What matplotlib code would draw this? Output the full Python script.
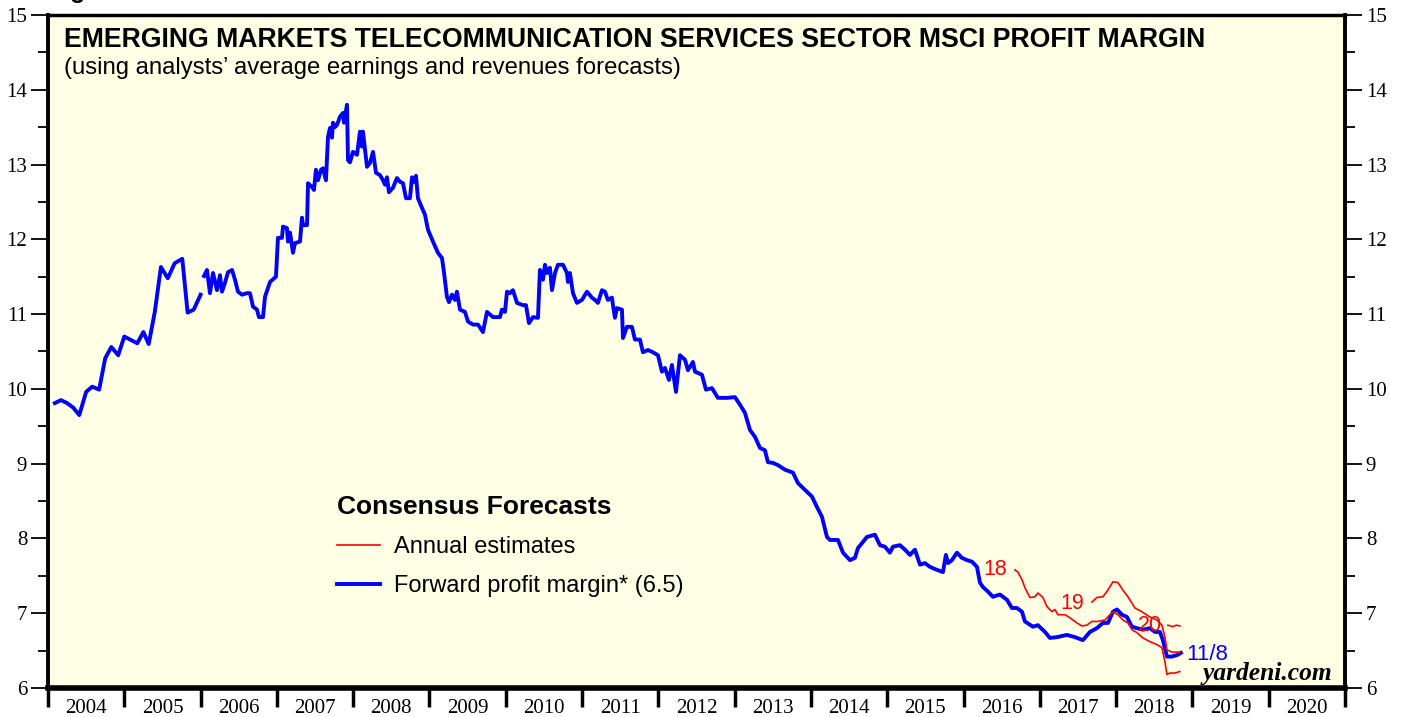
import matplotlib
matplotlib.use("Agg")
import matplotlib.pyplot as plt
from matplotlib.lines import Line2D
from matplotlib.ticker import MultipleLocator, FixedLocator, NullFormatter

# monthly forward profit margin, 2004-2005
early_years = [2004.09, 2004.17, 2004.25, 2004.33, 2004.41, 2004.50, 2004.58, 2004.67,
               2004.75, 2004.83, 2004.92, 2005.00, 2005.17, 2005.25, 2005.32, 2005.40,
               2005.48, 2005.57, 2005.66, 2005.76, 2005.83, 2005.91, 2006.00]
early_margin = [9.81, 9.85, 9.81, 9.75, 9.65, 9.96, 10.03, 9.99,
                10.41, 10.56, 10.45, 10.70, 10.61, 10.76, 10.60, 11.03,
                11.63, 11.48, 11.68, 11.74, 11.02, 11.06, 11.26]

# weekly forward profit margin, 2006 onwards
fwd_years = [2006.045, 2006.084, 2006.123, 2006.163, 2006.215, 2006.254, 2006.280, 2006.320,
             2006.359, 2006.412, 2006.451, 2006.490, 2006.543, 2006.608, 2006.647, 2006.687,
             2006.739, 2006.765, 2006.818, 2006.844, 2006.910, 2006.988, 2007.014, 2007.067,
             2007.080, 2007.132, 2007.145, 2007.172, 2007.211, 2007.237, 2007.303, 2007.329,
             2007.342, 2007.395, 2007.408, 2007.460, 2007.486, 2007.512, 2007.539, 2007.578,
             2007.604, 2007.643, 2007.670, 2007.696, 2007.722, 2007.735, 2007.761, 2007.788,
             2007.827, 2007.866, 2007.879, 2007.919, 2007.932, 2007.958, 2007.997, 2008.050,
             2008.089, 2008.115, 2008.128, 2008.181, 2008.220, 2008.260, 2008.299, 2008.351,
             2008.391, 2008.417, 2008.443, 2008.469, 2008.522, 2008.574, 2008.613, 2008.653,
             2008.692, 2008.744, 2008.771, 2008.797, 2008.823, 2008.849, 2008.902, 2008.941,
             2008.980, 2009.046, 2009.111, 2009.164, 2009.190, 2009.229, 2009.256, 2009.295,
             2009.334, 2009.360, 2009.400, 2009.465, 2009.505, 2009.570, 2009.636, 2009.701,
             2009.754, 2009.832, 2009.924, 2009.950, 2009.990, 2010.016, 2010.055, 2010.094,
             2010.147, 2010.225, 2010.265, 2010.304, 2010.357, 2010.422, 2010.448, 2010.488,
             2010.514, 2010.540, 2010.579, 2010.606, 2010.645, 2010.684, 2010.750, 2010.802,
             2010.815, 2010.841, 2010.881, 2010.933, 2010.999, 2011.064, 2011.130, 2011.169,
             2011.208, 2011.261, 2011.300, 2011.339, 2011.392, 2011.405, 2011.431, 2011.457,
             2011.523, 2011.536, 2011.588, 2011.654, 2011.693, 2011.759, 2011.798, 2011.864,
             2011.929, 2011.995, 2012.047, 2012.087, 2012.139, 2012.178, 2012.231, 2012.283,
             2012.349, 2012.388, 2012.453, 2012.480, 2012.571, 2012.624, 2012.703, 2012.781,
             2012.899, 2013.004, 2013.069, 2013.135, 2013.201, 2013.266, 2013.332, 2013.397,
             2013.436, 2013.502, 2013.568, 2013.659, 2013.764, 2013.830, 2013.921, 2014.013,
             2014.079, 2014.144, 2014.210, 2014.249, 2014.354, 2014.420, 2014.511, 2014.577,
             2014.616, 2014.734, 2014.839, 2014.904, 2014.970, 2015.035, 2015.075, 2015.166,
             2015.232, 2015.298, 2015.363, 2015.429, 2015.494, 2015.560, 2015.651, 2015.730,
             2015.769, 2015.796, 2015.848, 2015.914, 2015.979, 2016.045, 2016.110, 2016.176,
             2016.215, 2016.254, 2016.320, 2016.385, 2016.477, 2016.569, 2016.634, 2016.700,
             2016.766, 2016.805, 2016.910, 2016.975, 2017.067, 2017.132, 2017.224, 2017.355,
             2017.460, 2017.565, 2017.657, 2017.748, 2017.827, 2017.893, 2017.958, 2018.011,
             2018.076, 2018.142, 2018.207, 2018.273, 2018.351, 2018.443, 2018.509, 2018.574,
             2018.613, 2018.666, 2018.731, 2018.797, 2018.849]
fwd_margin = [11.51, 11.59, 11.28, 11.55, 11.32, 11.52, 11.30, 11.42,
              11.56, 11.59, 11.46, 11.30, 11.26, 11.28, 11.28, 11.10,
              11.06, 10.96, 10.96, 11.23, 11.43, 11.50, 12.02, 12.02,
              12.17, 12.15, 11.97, 12.09, 11.82, 11.95, 11.97, 12.29,
              12.19, 12.19, 12.75, 12.70, 12.66, 12.93, 12.79, 12.93,
              12.95, 12.79, 13.37, 13.49, 13.36, 13.56, 13.50, 13.53,
              13.64, 13.69, 13.56, 13.80, 13.06, 13.03, 13.17, 13.13,
              13.44, 13.24, 13.44, 12.97, 13.02, 13.17, 12.89, 12.86,
              12.79, 12.73, 12.83, 12.63, 12.69, 12.82, 12.77, 12.75,
              12.55, 12.55, 12.83, 12.77, 12.85, 12.55, 12.42, 12.33,
              12.13, 11.97, 11.82, 11.75, 11.56, 11.23, 11.16, 11.26,
              11.19, 11.30, 11.06, 11.03, 10.90, 10.86, 10.86, 10.76,
              11.03, 10.96, 10.96, 11.06, 11.03, 11.30, 11.28, 11.32,
              11.15, 11.12, 11.12, 10.88, 10.96, 10.95, 11.59, 11.46,
              11.66, 11.55, 11.62, 11.32, 11.55, 11.66, 11.66, 11.55,
              11.43, 11.55, 11.28, 11.15, 11.19, 11.30, 11.22, 11.19,
              11.15, 11.32, 11.30, 11.19, 11.22, 11.12, 10.95, 11.08,
              11.06, 10.68, 10.83, 10.83, 10.66, 10.66, 10.49, 10.52,
              10.49, 10.45, 10.23, 10.28, 10.12, 10.32, 9.96, 10.45,
              10.39, 10.25, 10.36, 10.23, 10.19, 9.99, 10.01, 9.88,
              9.88, 9.89, 9.79, 9.68, 9.45, 9.36, 9.21, 9.18,
              9.02, 9.01, 8.98, 8.92, 8.88, 8.74, 8.65, 8.56,
              8.42, 8.29, 8.02, 7.98, 7.98, 7.81, 7.71, 7.74,
              7.87, 8.02, 8.05, 7.91, 7.89, 7.81, 7.89, 7.91,
              7.85, 7.78, 7.85, 7.65, 7.67, 7.62, 7.58, 7.55,
              7.78, 7.67, 7.71, 7.81, 7.74, 7.71, 7.69, 7.62,
              7.41, 7.35, 7.29, 7.22, 7.25, 7.18, 7.07, 7.07,
              7.02, 6.89, 6.82, 6.84, 6.75, 6.67, 6.68, 6.71,
              6.68, 6.64, 6.75, 6.80, 6.87, 6.87, 7.02, 7.05,
              6.98, 6.95, 6.82, 6.80, 6.78, 6.80, 6.75, 6.75,
              6.64, 6.42, 6.42, 6.44, 6.47]

# annual consensus estimates
est18_years = [2016.674, 2016.713, 2016.766, 2016.805, 2016.870, 2016.936, 2016.975, 2017.041,
               2017.093, 2017.159, 2017.198, 2017.237, 2017.329, 2017.395, 2017.486, 2017.552,
               2017.617, 2017.683, 2017.762, 2017.853, 2017.919, 2017.958, 2018.024, 2018.089,
               2018.155, 2018.207, 2018.273, 2018.351, 2018.443, 2018.535, 2018.600, 2018.640,
               2018.666, 2018.705, 2018.771, 2018.836]
est18 = [7.58, 7.55, 7.45, 7.34, 7.21, 7.22, 7.27, 7.21,
         7.09, 7.02, 7.05, 6.98, 6.98, 6.94, 6.87, 6.83,
         6.84, 6.89, 6.89, 6.91, 6.98, 7.02, 6.98, 6.91,
         6.87, 6.78, 6.74, 6.67, 6.62, 6.58, 6.54, 6.35,
         6.18, 6.20, 6.20, 6.22]
est19_years = [2017.683, 2017.748, 2017.827, 2017.893, 2017.958, 2018.024, 2018.089, 2018.155,
               2018.247, 2018.338, 2018.443, 2018.535, 2018.600, 2018.640, 2018.666, 2018.731,
               2018.836]
est19 = [7.15, 7.21, 7.22, 7.31, 7.42, 7.41, 7.31, 7.22,
         7.07, 7.02, 6.95, 6.91, 6.84, 6.68, 6.51, 6.48,
         6.48]
est20_years = [2018.679, 2018.744, 2018.790, 2018.836]
est20 = [6.84, 6.82, 6.84, 6.83]

year_labels = [str(y) for y in range(2004, 2021)]

sans = ['Liberation Sans', 'DejaVu Sans']
serif = ['Liberation Serif', 'DejaVu Serif']

fig = plt.figure(figsize=(14.03, 7.17), dpi=100)
ax = fig.add_axes([48 / 1403, 29 / 717, 1297 / 1403, 673 / 717])
ax.set_facecolor('#ffffe5')

ax.plot(early_years, early_margin, color='#0000ff', lw=2.8, solid_joinstyle='round')
ax.plot(fwd_years, fwd_margin, color='#0000ff', lw=2.8, solid_joinstyle='round')
for yrs, vals in [(est18_years, est18), (est19_years, est19), (est20_years, est20)]:
    ax.plot(yrs, vals, color='#ff0000', lw=1.2)

ax.text(2016.42, 7.58, '18', color='#ff0000', fontsize=15.5, family=sans, ha='center', va='center')
ax.text(2017.43, 7.13, '19', color='#ff0000', fontsize=15.5, family=sans, ha='center', va='center')
ax.text(2018.44, 6.84, '20', color='#ff0000', fontsize=15.5, family=sans, ha='center', va='center')
ax.text(2018.92, 6.45, '11/8', color='#0000ff', fontsize=16, family=sans, ha='left', va='center')

ax.set_xlim(2004, 2021)
ax.set_ylim(6, 15)

# x axis: ticks at year boundaries, labels centred in each year
ax.xaxis.set_major_locator(MultipleLocator(1))
ax.xaxis.set_major_formatter(NullFormatter())
ax.xaxis.set_minor_locator(FixedLocator([y + 0.5 for y in range(2004, 2021)]))
ax.set_xticklabels(year_labels, minor=True)
ax.tick_params(axis='x', which='major', direction='out', length=14, width=2.5, bottom=True, top=False)
ax.tick_params(axis='x', which='minor', length=0, pad=8, labelsize=15)

# y axis on both sides
ax.yaxis.set_major_locator(MultipleLocator(1))
ax.yaxis.set_minor_locator(MultipleLocator(0.5))
ax.tick_params(axis='y', which='major', direction='out', length=12, width=1.3,
               left=True, right=True, labelleft=True, labelright=True, labelsize=15, pad=3)
ax.tick_params(axis='y', which='minor', direction='out', length=7, width=1.3, left=True, right=True)
for lab in ax.get_xticklabels(minor=True):
    lab.set_family(serif)
for t in ax.yaxis.get_major_ticks():
    t.label1.set_family(serif)
    t.label2.set_family(serif)

for side, w in [('left', 2.8), ('right', 2.8), ('bottom', 4), ('top', 2.5)]:
    ax.spines[side].set_linewidth(w)

ax.text(0.012, 0.982, 'EMERGING MARKETS TELECOMMUNICATION SERVICES SECTOR MSCI PROFIT MARGIN',
        transform=ax.transAxes, fontsize=19.2, fontweight='bold', family=sans, va='top')
ax.text(0.012, 0.938, '(using analysts\u2019 average earnings and revenues forecasts)',
        transform=ax.transAxes, fontsize=17.2, family=sans, va='top')

handles = [Line2D([], [], color='#ff0000', lw=1.2),
           Line2D([], [], color='#0000ff', lw=2.8)]
leg = ax.legend(handles, ['Annual estimates', 'Forward profit margin* (6.5)'],
                title='Consensus Forecasts', loc='upper left', bbox_to_anchor=(0.223, 0.287),
                frameon=False, handlelength=1.8, handletextpad=0.6, labelspacing=0.72,
                borderaxespad=0, borderpad=0, prop={'family': sans, 'size': 17},
                alignment='left')
leg.get_title().set_fontproperties({'family': sans, 'size': 19, 'weight': 'bold'})

ax.text(0.99, 0.012, 'yardeni.com', transform=ax.transAxes, fontsize=18.4,
        fontweight='bold', fontstyle='italic', family=serif, ha='right', va='baseline')

fig.text(48 / 1403, 1 + 2 / 717, 'Figure 6.', fontsize=18, fontweight='bold', family=sans,
         va='baseline')

fig.savefig('out.png', dpi=100)
